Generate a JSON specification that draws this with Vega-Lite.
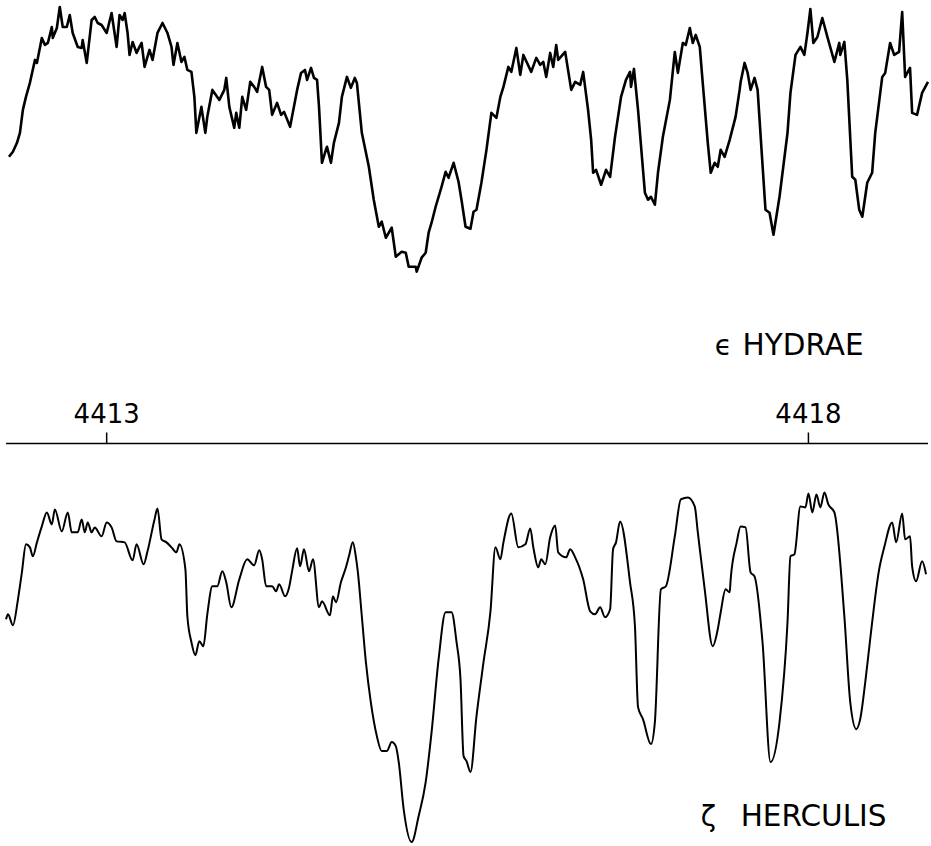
{
  "$schema": "https://vega.github.io/schema/vega-lite/v6.json",
  "width": 931,
  "height": 846,
  "padding": 0,
  "autosize": {"type": "fit", "contains": "padding"},
  "background": "white",
  "config": {"view": {"stroke": null}, "font": "DejaVu Sans"},
  "datasets": {
    "hya": [
      {"wavelength":4412.304,"intensity":6.89},{"wavelength":4412.332,"intensity":6.94},{"wavelength":4412.361,"intensity":7.03},{"wavelength":4412.382,"intensity":7.13},{"wavelength":4412.403,"intensity":7.36},{"wavelength":4412.425,"intensity":7.49},{"wavelength":4412.453,"intensity":7.63},{"wavelength":4412.489,"intensity":7.86},{"wavelength":4412.503,"intensity":7.83},{"wavelength":4412.538,"intensity":8.08},{"wavelength":4412.560,"intensity":8.01},{"wavelength":4412.581,"intensity":8.03},{"wavelength":4412.609,"intensity":8.19},{"wavelength":4412.616,"intensity":8.08},{"wavelength":4412.645,"intensity":8.18},{"wavelength":4412.666,"intensity":8.39},{"wavelength":4412.687,"intensity":8.19},{"wavelength":4412.716,"intensity":8.19},{"wavelength":4412.737,"intensity":8.31},{"wavelength":4412.758,"intensity":8.13},{"wavelength":4412.794,"intensity":7.99},{"wavelength":4412.822,"intensity":7.98},{"wavelength":4412.829,"intensity":8.06},{"wavelength":4412.858,"intensity":7.83},{"wavelength":4412.893,"intensity":8.26},{"wavelength":4412.915,"intensity":8.29},{"wavelength":4412.936,"intensity":8.23},{"wavelength":4412.964,"intensity":8.21},{"wavelength":4413.000,"intensity":8.13},{"wavelength":4413.035,"intensity":8.33},{"wavelength":4413.071,"intensity":7.99},{"wavelength":4413.092,"intensity":8.31},{"wavelength":4413.114,"intensity":8.26},{"wavelength":4413.128,"intensity":8.33},{"wavelength":4413.149,"intensity":8.13},{"wavelength":4413.163,"intensity":7.91},{"wavelength":4413.185,"intensity":8.04},{"wavelength":4413.213,"intensity":7.93},{"wavelength":4413.234,"intensity":7.99},{"wavelength":4413.249,"intensity":8.03},{"wavelength":4413.270,"intensity":7.79},{"wavelength":4413.305,"intensity":7.96},{"wavelength":4413.327,"intensity":7.86},{"wavelength":4413.362,"intensity":8.13},{"wavelength":4413.398,"intensity":8.23},{"wavelength":4413.433,"intensity":8.13},{"wavelength":4413.462,"intensity":7.99},{"wavelength":4413.476,"intensity":7.81},{"wavelength":4413.504,"intensity":8.03},{"wavelength":4413.533,"intensity":7.84},{"wavelength":4413.554,"intensity":7.89},{"wavelength":4413.575,"intensity":7.76},{"wavelength":4413.604,"intensity":7.74},{"wavelength":4413.625,"intensity":7.49},{"wavelength":4413.639,"intensity":7.13},{"wavelength":4413.675,"intensity":7.39},{"wavelength":4413.703,"intensity":7.13},{"wavelength":4413.717,"intensity":7.29},{"wavelength":4413.753,"intensity":7.56},{"wavelength":4413.803,"intensity":7.46},{"wavelength":4413.838,"intensity":7.56},{"wavelength":4413.852,"intensity":7.68},{"wavelength":4413.874,"intensity":7.39},{"wavelength":4413.909,"intensity":7.18},{"wavelength":4413.923,"intensity":7.33},{"wavelength":4413.945,"intensity":7.18},{"wavelength":4413.966,"intensity":7.49},{"wavelength":4413.994,"intensity":7.36},{"wavelength":4414.023,"intensity":7.64},{"wavelength":4414.051,"intensity":7.59},{"wavelength":4414.072,"intensity":7.54},{"wavelength":4414.108,"intensity":7.79},{"wavelength":4414.136,"intensity":7.59},{"wavelength":4414.158,"intensity":7.56},{"wavelength":4414.179,"intensity":7.31},{"wavelength":4414.214,"intensity":7.43},{"wavelength":4414.243,"intensity":7.31},{"wavelength":4414.264,"intensity":7.34},{"wavelength":4414.307,"intensity":7.19},{"wavelength":4414.357,"intensity":7.56},{"wavelength":4414.385,"intensity":7.73},{"wavelength":4414.413,"intensity":7.76},{"wavelength":4414.428,"intensity":7.66},{"wavelength":4414.456,"intensity":7.78},{"wavelength":4414.477,"intensity":7.68},{"wavelength":4414.499,"intensity":7.66},{"wavelength":4414.513,"intensity":7.39},{"wavelength":4414.534,"intensity":6.83},{"wavelength":4414.562,"intensity":6.96},{"wavelength":4414.570,"intensity":6.99},{"wavelength":4414.598,"intensity":6.83},{"wavelength":4414.619,"intensity":7.03},{"wavelength":4414.655,"intensity":7.23},{"wavelength":4414.676,"intensity":7.49},{"wavelength":4414.712,"intensity":7.69},{"wavelength":4414.740,"intensity":7.58},{"wavelength":4414.768,"intensity":7.68},{"wavelength":4414.783,"intensity":7.63},{"wavelength":4414.818,"intensity":7.13},{"wavelength":4414.868,"intensity":6.79},{"wavelength":4414.903,"intensity":6.46},{"wavelength":4414.939,"intensity":6.19},{"wavelength":4414.960,"intensity":6.24},{"wavelength":4414.989,"intensity":6.08},{"wavelength":4415.031,"intensity":6.18},{"wavelength":4415.060,"intensity":5.89},{"wavelength":4415.102,"intensity":5.94},{"wavelength":4415.131,"intensity":5.93},{"wavelength":4415.152,"intensity":5.79},{"wavelength":4415.202,"intensity":5.79},{"wavelength":4415.209,"intensity":5.74},{"wavelength":4415.244,"intensity":5.88},{"wavelength":4415.273,"intensity":5.93},{"wavelength":4415.294,"intensity":6.13},{"wavelength":4415.315,"intensity":6.23},{"wavelength":4415.344,"intensity":6.39},{"wavelength":4415.386,"intensity":6.59},{"wavelength":4415.415,"intensity":6.74},{"wavelength":4415.436,"intensity":6.68},{"wavelength":4415.472,"intensity":6.83},{"wavelength":4415.507,"intensity":6.64},{"wavelength":4415.528,"intensity":6.46},{"wavelength":4415.557,"intensity":6.19},{"wavelength":4415.592,"intensity":6.17},{"wavelength":4415.614,"intensity":6.34},{"wavelength":4415.635,"intensity":6.36},{"wavelength":4415.670,"intensity":6.63},{"wavelength":4415.706,"intensity":6.96},{"wavelength":4415.741,"intensity":7.33},{"wavelength":4415.777,"intensity":7.28},{"wavelength":4415.805,"intensity":7.49},{"wavelength":4415.827,"intensity":7.59},{"wavelength":4415.862,"intensity":7.79},{"wavelength":4415.883,"intensity":7.74},{"wavelength":4415.919,"intensity":7.98},{"wavelength":4415.947,"intensity":7.71},{"wavelength":4415.969,"intensity":7.91},{"wavelength":4416.025,"intensity":7.74},{"wavelength":4416.061,"intensity":7.88},{"wavelength":4416.089,"intensity":7.81},{"wavelength":4416.111,"intensity":7.84},{"wavelength":4416.132,"intensity":7.69},{"wavelength":4416.160,"intensity":7.93},{"wavelength":4416.182,"intensity":7.79},{"wavelength":4416.203,"intensity":8.01},{"wavelength":4416.217,"intensity":7.86},{"wavelength":4416.267,"intensity":7.94},{"wavelength":4416.310,"intensity":7.56},{"wavelength":4416.338,"intensity":7.64},{"wavelength":4416.374,"intensity":7.61},{"wavelength":4416.395,"intensity":7.74},{"wavelength":4416.430,"intensity":7.36},{"wavelength":4416.452,"intensity":7.06},{"wavelength":4416.466,"intensity":6.73},{"wavelength":4416.487,"intensity":6.76},{"wavelength":4416.523,"intensity":6.61},{"wavelength":4416.558,"intensity":6.76},{"wavelength":4416.587,"intensity":6.69},{"wavelength":4416.622,"intensity":7.09},{"wavelength":4416.665,"intensity":7.49},{"wavelength":4416.700,"intensity":7.66},{"wavelength":4416.729,"intensity":7.74},{"wavelength":4416.736,"intensity":7.59},{"wavelength":4416.757,"intensity":7.77},{"wavelength":4416.786,"intensity":7.36},{"wavelength":4416.835,"intensity":6.53},{"wavelength":4416.857,"intensity":6.46},{"wavelength":4416.878,"intensity":6.49},{"wavelength":4416.906,"intensity":6.41},{"wavelength":4416.928,"intensity":6.73},{"wavelength":4416.963,"intensity":7.09},{"wavelength":4417.013,"intensity":7.46},{"wavelength":4417.048,"intensity":7.94},{"wavelength":4417.070,"intensity":7.73},{"wavelength":4417.105,"intensity":8.03},{"wavelength":4417.126,"intensity":8.01},{"wavelength":4417.155,"intensity":8.18},{"wavelength":4417.176,"intensity":8.03},{"wavelength":4417.197,"intensity":8.11},{"wavelength":4417.226,"intensity":7.99},{"wavelength":4417.247,"intensity":7.63},{"wavelength":4417.283,"intensity":7.03},{"wavelength":4417.304,"intensity":6.73},{"wavelength":4417.332,"intensity":6.83},{"wavelength":4417.354,"intensity":6.79},{"wavelength":4417.375,"intensity":6.96},{"wavelength":4417.403,"intensity":6.89},{"wavelength":4417.439,"intensity":7.06},{"wavelength":4417.481,"intensity":7.29},{"wavelength":4417.510,"intensity":7.56},{"wavelength":4417.517,"intensity":7.64},{"wavelength":4417.545,"intensity":7.83},{"wavelength":4417.567,"intensity":7.73},{"wavelength":4417.588,"intensity":7.56},{"wavelength":4417.616,"intensity":7.68},{"wavelength":4417.638,"intensity":7.56},{"wavelength":4417.694,"intensity":6.36},{"wavelength":4417.723,"intensity":6.33},{"wavelength":4417.751,"intensity":6.11},{"wavelength":4417.794,"intensity":6.49},{"wavelength":4417.851,"intensity":7.13},{"wavelength":4417.872,"intensity":7.53},{"wavelength":4417.908,"intensity":7.91},{"wavelength":4417.943,"intensity":7.99},{"wavelength":4417.971,"intensity":7.91},{"wavelength":4417.993,"intensity":8.13},{"wavelength":4418.014,"intensity":8.37},{"wavelength":4418.035,"intensity":8.03},{"wavelength":4418.064,"intensity":8.09},{"wavelength":4418.099,"intensity":8.28},{"wavelength":4418.135,"intensity":8.09},{"wavelength":4418.185,"intensity":7.84},{"wavelength":4418.220,"intensity":8.03},{"wavelength":4418.227,"intensity":7.91},{"wavelength":4418.256,"intensity":8.04},{"wavelength":4418.277,"intensity":7.66},{"wavelength":4418.312,"intensity":6.69},{"wavelength":4418.334,"intensity":6.66},{"wavelength":4418.362,"intensity":6.36},{"wavelength":4418.384,"intensity":6.29},{"wavelength":4418.419,"intensity":6.63},{"wavelength":4418.454,"intensity":6.73},{"wavelength":4418.476,"intensity":7.13},{"wavelength":4418.526,"intensity":7.69},{"wavelength":4418.547,"intensity":7.73},{"wavelength":4418.582,"intensity":8.03},{"wavelength":4418.611,"intensity":7.91},{"wavelength":4418.646,"intensity":7.94},{"wavelength":4418.668,"intensity":8.34},{"wavelength":4418.689,"intensity":7.69},{"wavelength":4418.724,"intensity":7.78},{"wavelength":4418.739,"intensity":7.33},{"wavelength":4418.774,"intensity":7.31},{"wavelength":4418.810,"intensity":7.53},{"wavelength":4418.852,"intensity":7.64}
    ],
    "her": [
      {"wavelength":4412.283,"intensity":2.26},{"wavelength":4412.297,"intensity":2.31},{"wavelength":4412.332,"intensity":2.20},{"wavelength":4412.368,"intensity":2.46},{"wavelength":4412.396,"intensity":2.73},{"wavelength":4412.425,"intensity":3.01},{"wavelength":4412.453,"intensity":2.98},{"wavelength":4412.474,"intensity":2.89},{"wavelength":4412.503,"intensity":3.03},{"wavelength":4412.538,"intensity":3.19},{"wavelength":4412.574,"intensity":3.33},{"wavelength":4412.609,"intensity":3.21},{"wavelength":4412.631,"intensity":3.36},{"wavelength":4412.680,"intensity":3.14},{"wavelength":4412.723,"intensity":3.33},{"wavelength":4412.751,"intensity":3.13},{"wavelength":4412.794,"intensity":3.13},{"wavelength":4412.822,"intensity":3.26},{"wavelength":4412.844,"intensity":3.13},{"wavelength":4412.865,"intensity":3.23},{"wavelength":4412.893,"intensity":3.13},{"wavelength":4412.915,"intensity":3.18},{"wavelength":4412.964,"intensity":3.09},{"wavelength":4413.000,"intensity":3.23},{"wavelength":4413.035,"intensity":3.18},{"wavelength":4413.071,"intensity":3.04},{"wavelength":4413.128,"intensity":3.03},{"wavelength":4413.185,"intensity":2.85},{"wavelength":4413.213,"intensity":3.01},{"wavelength":4413.263,"intensity":2.81},{"wavelength":4413.291,"intensity":2.94},{"wavelength":4413.341,"intensity":3.26},{"wavelength":4413.362,"intensity":3.37},{"wavelength":4413.391,"intensity":3.06},{"wavelength":4413.426,"intensity":3.03},{"wavelength":4413.462,"intensity":2.98},{"wavelength":4413.497,"intensity":2.93},{"wavelength":4413.518,"intensity":3.01},{"wavelength":4413.561,"intensity":2.76},{"wavelength":4413.575,"intensity":2.29},{"wavelength":4413.604,"intensity":2.03},{"wavelength":4413.632,"intensity":1.90},{"wavelength":4413.660,"intensity":2.04},{"wavelength":4413.689,"intensity":1.99},{"wavelength":4413.717,"intensity":2.31},{"wavelength":4413.753,"intensity":2.59},{"wavelength":4413.788,"intensity":2.59},{"wavelength":4413.824,"intensity":2.74},{"wavelength":4413.852,"intensity":2.63},{"wavelength":4413.888,"intensity":2.38},{"wavelength":4413.945,"intensity":2.66},{"wavelength":4414.001,"intensity":2.86},{"wavelength":4414.051,"intensity":2.80},{"wavelength":4414.087,"intensity":2.95},{"wavelength":4414.108,"intensity":2.86},{"wavelength":4414.136,"intensity":2.59},{"wavelength":4414.179,"intensity":2.59},{"wavelength":4414.207,"intensity":2.54},{"wavelength":4414.229,"intensity":2.61},{"wavelength":4414.271,"intensity":2.49},{"wavelength":4414.300,"intensity":2.58},{"wavelength":4414.321,"intensity":2.74},{"wavelength":4414.357,"intensity":2.97},{"wavelength":4414.378,"intensity":2.79},{"wavelength":4414.406,"intensity":2.96},{"wavelength":4414.442,"intensity":2.74},{"wavelength":4414.470,"intensity":2.86},{"wavelength":4414.513,"intensity":2.38},{"wavelength":4414.534,"intensity":2.44},{"wavelength":4414.591,"intensity":2.30},{"wavelength":4414.612,"intensity":2.49},{"wavelength":4414.634,"intensity":2.43},{"wavelength":4414.669,"intensity":2.63},{"wavelength":4414.705,"intensity":2.78},{"wavelength":4414.726,"intensity":2.89},{"wavelength":4414.754,"intensity":3.03},{"wavelength":4414.776,"intensity":2.88},{"wavelength":4414.790,"intensity":2.73},{"wavelength":4414.818,"intensity":2.29},{"wavelength":4414.847,"intensity":1.83},{"wavelength":4414.882,"intensity":1.43},{"wavelength":4414.925,"intensity":1.09},{"wavelength":4414.960,"intensity":0.94},{"wavelength":4414.996,"intensity":0.94},{"wavelength":4415.031,"intensity":1.03},{"wavelength":4415.060,"intensity":0.99},{"wavelength":4415.081,"intensity":0.83},{"wavelength":4415.116,"intensity":0.36},{"wavelength":4415.173,"intensity":0.03},{"wavelength":4415.223,"intensity":0.29},{"wavelength":4415.273,"intensity":0.63},{"wavelength":4415.315,"intensity":1.13},{"wavelength":4415.365,"intensity":1.86},{"wavelength":4415.415,"intensity":2.33},{"wavelength":4415.457,"intensity":2.33},{"wavelength":4415.493,"intensity":2.03},{"wavelength":4415.521,"intensity":1.66},{"wavelength":4415.543,"intensity":0.89},{"wavelength":4415.564,"intensity":0.84},{"wavelength":4415.592,"intensity":0.73},{"wavelength":4415.635,"intensity":1.29},{"wavelength":4415.685,"intensity":1.83},{"wavelength":4415.734,"intensity":2.33},{"wavelength":4415.770,"intensity":2.98},{"wavelength":4415.805,"intensity":2.86},{"wavelength":4415.827,"intensity":3.03},{"wavelength":4415.883,"intensity":3.32},{"wavelength":4415.933,"intensity":2.98},{"wavelength":4415.983,"intensity":3.01},{"wavelength":4416.018,"intensity":3.17},{"wavelength":4416.040,"intensity":2.98},{"wavelength":4416.075,"intensity":2.78},{"wavelength":4416.096,"intensity":2.86},{"wavelength":4416.125,"intensity":2.81},{"wavelength":4416.160,"intensity":3.08},{"wavelength":4416.196,"intensity":3.20},{"wavelength":4416.217,"intensity":2.93},{"wavelength":4416.274,"intensity":2.88},{"wavelength":4416.302,"intensity":2.96},{"wavelength":4416.338,"intensity":2.88},{"wavelength":4416.395,"intensity":2.66},{"wavelength":4416.445,"intensity":2.34},{"wavelength":4416.480,"intensity":2.31},{"wavelength":4416.516,"intensity":2.38},{"wavelength":4416.551,"intensity":2.28},{"wavelength":4416.587,"intensity":2.36},{"wavelength":4416.608,"intensity":2.96},{"wavelength":4416.629,"intensity":3.03},{"wavelength":4416.658,"intensity":3.24},{"wavelength":4416.729,"intensity":2.63},{"wavelength":4416.764,"intensity":2.19},{"wavelength":4416.786,"intensity":1.38},{"wavelength":4416.821,"intensity":1.26},{"wavelength":4416.878,"intensity":1.01},{"wavelength":4416.906,"intensity":1.23},{"wavelength":4416.949,"intensity":2.56},{"wavelength":4416.984,"intensity":2.59},{"wavelength":4417.048,"intensity":3.09},{"wavelength":4417.091,"intensity":3.46},{"wavelength":4417.141,"intensity":3.48},{"wavelength":4417.190,"intensity":3.39},{"wavelength":4417.212,"intensity":3.13},{"wavelength":4417.261,"intensity":2.56},{"wavelength":4417.318,"intensity":1.99},{"wavelength":4417.354,"intensity":2.16},{"wavelength":4417.375,"intensity":2.33},{"wavelength":4417.410,"intensity":2.56},{"wavelength":4417.439,"intensity":2.53},{"wavelength":4417.446,"intensity":2.66},{"wavelength":4417.489,"intensity":3.03},{"wavelength":4417.517,"intensity":3.19},{"wavelength":4417.552,"intensity":3.18},{"wavelength":4417.588,"intensity":2.73},{"wavelength":4417.616,"intensity":2.69},{"wavelength":4417.673,"intensity":2.03},{"wavelength":4417.730,"intensity":0.83},{"wavelength":4417.794,"intensity":1.23},{"wavelength":4417.851,"intensity":2.23},{"wavelength":4417.872,"intensity":2.89},{"wavelength":4417.900,"intensity":2.91},{"wavelength":4417.943,"intensity":3.39},{"wavelength":4417.979,"intensity":3.38},{"wavelength":4418.000,"intensity":3.52},{"wavelength":4418.028,"intensity":3.33},{"wavelength":4418.057,"intensity":3.51},{"wavelength":4418.085,"intensity":3.38},{"wavelength":4418.114,"intensity":3.53},{"wavelength":4418.142,"intensity":3.41},{"wavelength":4418.185,"intensity":3.33},{"wavelength":4418.256,"intensity":2.29},{"wavelength":4418.298,"intensity":1.43},{"wavelength":4418.341,"intensity":1.16},{"wavelength":4418.369,"intensity":1.26},{"wavelength":4418.405,"intensity":1.63},{"wavelength":4418.440,"intensity":2.06},{"wavelength":4418.504,"intensity":2.76},{"wavelength":4418.540,"intensity":2.98},{"wavelength":4418.597,"intensity":3.23},{"wavelength":4418.625,"intensity":3.03},{"wavelength":4418.668,"intensity":3.32},{"wavelength":4418.689,"intensity":3.06},{"wavelength":4418.724,"intensity":3.09},{"wavelength":4418.739,"intensity":2.79},{"wavelength":4418.767,"intensity":2.64},{"wavelength":4418.810,"intensity":2.84},{"wavelength":4418.838,"intensity":2.71}
    ],
    "ticks": [{"wavelength": 4413, "label": "4413"}, {"wavelength": 4418, "label": "4418"}]
  },
  "layer": [
    {
      "data": {"name": "hya"},
      "mark": {"type": "line", "color": "black", "strokeWidth": 2.6, "interpolate": "linear", "strokeJoin": "round"},
      "encoding": {
        "x": {"field": "wavelength", "type": "quantitative", "scale": {"domain": [4412.24, 4418.852], "nice": false, "zero": false}, "axis": null},
        "y": {"field": "intensity", "type": "quantitative", "scale": {"domain": [0, 8.46], "nice": false, "zero": false}, "axis": null}
      }
    },
    {
      "data": {"name": "her"},
      "mark": {"type": "line", "color": "black", "strokeWidth": 2, "interpolate": "monotone"},
      "encoding": {
        "x": {"field": "wavelength", "type": "quantitative"},
        "y": {"field": "intensity", "type": "quantitative"}
      }
    },
    {
      "data": {"values": [{}]},
      "mark": {"type": "rule", "color": "black", "strokeWidth": 1.5},
      "encoding": {
        "x": {"datum": 4412.283, "type": "quantitative"},
        "x2": {"datum": 4418.852},
        "y": {"datum": 4.02, "type": "quantitative"}
      }
    },
    {
      "data": {"name": "ticks"},
      "mark": {"type": "rule", "color": "black", "strokeWidth": 1.5},
      "encoding": {
        "x": {"field": "wavelength", "type": "quantitative"},
        "y": {"datum": 4.02, "type": "quantitative"},
        "y2": {"datum": 4.13}
      }
    },
    {
      "data": {"name": "ticks"},
      "mark": {"type": "text", "color": "black", "fontSize": 26, "font": "DejaVu Sans", "align": "center", "baseline": "alphabetic"},
      "encoding": {
        "x": {"field": "wavelength", "type": "quantitative"},
        "y": {"datum": 4.22, "type": "quantitative"},
        "text": {"field": "label"}
      }
    },
    {
      "data": {"values": [{}]},
      "mark": {"type": "text", "text": "ϵ", "color": "black", "fontSize": 28, "font": "DejaVu Sans", "align": "left", "baseline": "alphabetic"},
      "encoding": {"x": {"datum": 4417.332, "type": "quantitative"}, "y": {"datum": 4.91, "type": "quantitative"}}
    },
    {
      "data": {"values": [{}]},
      "mark": {"type": "text", "text": "HYDRAE", "color": "black", "fontSize": 29.5, "font": "DejaVu Sans", "align": "left", "baseline": "alphabetic"},
      "encoding": {"x": {"datum": 4417.531, "type": "quantitative"}, "y": {"datum": 4.91, "type": "quantitative"}}
    },
    {
      "data": {"values": [{}]},
      "mark": {"type": "text", "text": "ζ", "color": "black", "fontSize": 28, "font": "DejaVu Sans", "align": "left", "baseline": "alphabetic"},
      "encoding": {"x": {"datum": 4417.233, "type": "quantitative"}, "y": {"datum": 0.19, "type": "quantitative"}}
    },
    {
      "data": {"values": [{}]},
      "mark": {"type": "text", "text": "HERCULIS", "color": "black", "fontSize": 29.5, "font": "DejaVu Sans", "align": "left", "baseline": "alphabetic"},
      "encoding": {"x": {"datum": 4417.517, "type": "quantitative"}, "y": {"datum": 0.19, "type": "quantitative"}}
    }
  ]
}
